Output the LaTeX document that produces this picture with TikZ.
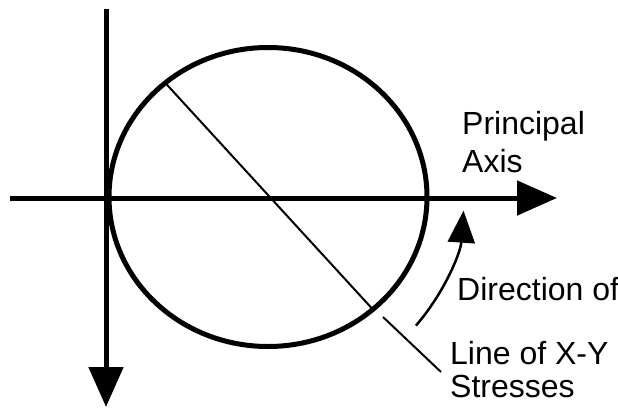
\documentclass[tikz,border=0pt]{standalone}
\usepackage{fontspec}
\setmainfont{Liberation Sans}
\usetikzlibrary{arrows.meta,shapes.geometric,calc}
\begin{document}
\begin{tikzpicture}[x=1pt,y=-1pt,
  axis/.style={line width=5pt,-{Triangle[length=40pt,width=34pt]}},
  ring/.style={draw,ellipse,line width=5pt,minimum width=318pt,minimum height=299pt,inner sep=0pt,outer sep=0pt},
  thin/.style={line width=2pt},
  turn/.style={line width=2.5pt,-{Triangle[length=32pt,width=27pt]}},
  lbl/.style={inner sep=0pt,font=\fontsize{32}{38}\selectfont,align=left}
]
\useasboundingbox (0,0) rectangle (618,407);
% axes
\coordinate (hL) at (10,198);
\coordinate (hR) at (557,198);
\coordinate (vT) at (106,9);
\coordinate (vB) at (106,407);
\draw[axis] (hL) -- (hR);
\draw[axis] (vT) -- (vB);
% circle
\node[ring] (c) at (268,197) {};
% line of X-Y stresses
\draw[thin] (c.132) -- (c.-47.5);
\coordinate (s1) at (383,317);
\coordinate (s2) at (441,372);
\draw[thin] (s1) -- (s2);
% direction arrow
\coordinate (o) at (268,197);
\coordinate (d1) at ($(o)+(41:196)$);
\draw[turn] (d1) arc[start angle=41,end angle=4,radius=196];
% labels
\node[lbl,anchor=north west] (pa) at (462,111) {Principal\\Axis};
\node[lbl,anchor=base west] (dir) at (457,300) {Direction of};
\node[lbl,anchor=north west,font=\fontsize{32}{33}\selectfont] (lxy) at (450,341) {Line of X-Y\\Stresses};
\end{tikzpicture}
\end{document}
